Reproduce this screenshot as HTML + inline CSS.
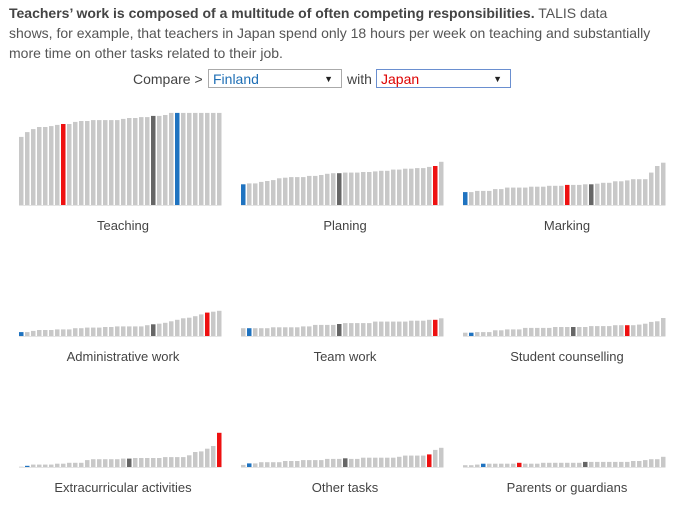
<!DOCTYPE html>
<html><head><meta charset="utf-8"><style>
body{margin:0;width:681px;height:506px;background:#fff;font-family:"Liberation Sans",sans-serif;color:#444;position:relative;overflow:hidden}
#intro{position:absolute;left:9px;top:3px;width:672px;font-size:14px;line-height:20px;color:#555;white-space:nowrap}
#intro b{color:#444}
.ctl{position:absolute;top:69px;font-size:14px;color:#444}
.sel{position:absolute;top:69px;height:19px;width:132px;border:1px solid #aaa;font-size:14px;line-height:19px;padding-left:4px;box-sizing:border-box;background:#fff}
.sel span.arr{position:absolute;right:8px;top:0;font-size:9px;color:#222}
svg{position:absolute;left:0;top:0}
</style></head><body>
<div id="intro"><b>Teachers’ work is composed of a multitude of often competing responsibilities.</b> TALIS data<br>shows, for example, that teachers in Japan spend only 18 hours per week on teaching and substantially<br>more time on other tasks related to their job.</div>
<div class="ctl" style="left:133px;top:71px">Compare &gt;</div>
<div class="sel" style="left:208px;width:134px;color:#1f6fb5">Finland<span class="arr">▼</span></div>
<div class="ctl" style="left:347px;top:71px">with</div>
<div class="sel" style="left:376px;width:135px;color:#d00;border-color:#6a8fd0">Japan<span class="arr">▼</span></div>
<svg id="chart" width="681" height="506"></svg>
<script>
const titles=["Teaching","Planing","Marking","Administrative work","Team work","Student counselling","Extracurricular activities","Other tasks","Parents or guardians"];
const teaching=[22.7,24.3,25.3,26,26,26.3,26.7,27,27,27.7,28,28,28.3,28.3,28.3,28.3,28.3,28.7,29,29,29.3,29.3,29.7,29.7,30,30.7,30.7,30.7,30.7,30.7,30.7,30.7,30.7,30.7];
const planing=[6.9,7.2,7.2,7.7,8,8.3,8.9,9.1,9.3,9.3,9.3,9.7,9.7,10,10.4,10.6,10.6,10.8,10.8,10.8,11,11,11.2,11.4,11.4,11.8,11.8,12.1,12.1,12.3,12.3,12.7,13,14.4];
const marking=[4.3,4.3,4.7,4.7,4.7,5.3,5.3,5.8,5.8,5.8,5.8,6.1,6.1,6.1,6.4,6.4,6.4,6.7,6.7,6.7,6.9,6.9,7.1,7.4,7.4,7.9,7.9,8.2,8.6,8.6,8.6,10.8,13,14.1];
const admin=[1.3,1.3,1.7,2,2,2,2.2,2.2,2.2,2.6,2.6,2.8,2.8,2.8,3,3,3.2,3.2,3.2,3.2,3.2,3.6,3.9,4.1,4.4,4.9,5.4,5.9,6.1,6.6,7.2,7.8,8.1,8.4];
const team=[2.6,2.6,2.6,2.6,2.6,2.9,2.9,2.9,2.9,2.9,3.2,3.2,3.7,3.7,3.7,3.7,4,4.3,4.3,4.3,4.3,4.3,4.8,4.8,4.8,4.8,4.8,4.8,5.1,5.1,5.1,5.4,5.4,5.9];
const counselling=[1.1,1.1,1.3,1.3,1.3,1.9,1.9,2.2,2.2,2.2,2.7,2.7,2.7,2.7,2.7,3,3,3,3,3,3,3.3,3.3,3.3,3.3,3.6,3.6,3.6,3.6,3.8,4.1,4.7,4.9,6];
const extra=[0.1,0.4,0.8,0.8,0.8,0.8,1.1,1.1,1.4,1.4,1.4,2.3,2.6,2.6,2.6,2.6,2.6,2.8,2.8,3,3,3,3,3,3.3,3.3,3.3,3.3,3.9,5,5.2,6.1,7,11.4];
const other=[0.7,1.2,1.2,1.6,1.6,1.6,1.6,2,2,2,2.3,2.3,2.3,2.3,2.7,2.7,2.7,2.9,2.7,2.7,3.1,3.1,3.1,3.1,3.1,3.1,3.4,3.8,3.8,3.8,3.8,4.2,5.7,6.4];
const parents=[0.6,0.6,0.8,1.1,1.1,1.1,1.1,1.1,1.1,1.4,1.1,1.1,1.1,1.4,1.4,1.4,1.4,1.4,1.4,1.4,1.7,1.7,1.7,1.7,1.7,1.7,1.7,1.7,2,2,2.3,2.6,2.6,3.4];
const series=[teaching,planing,marking,admin,team,counselling,extra,other,parents];
const finlandIdx=[26,0,0,0,1,1,1,1,3];
const japanIdx=[7,32,17,31,32,27,33,31,9];
const oecdIdx=[22,16,21,22,16,18,18,17,20];
const colX=[19,241,463], rowBase=[205,336,467];
const pxPerUnit=3, pitch=6, barW=4.5;
const svg=document.getElementById('chart');const NS="http://www.w3.org/2000/svg";
function xPos(c,i){return colX[c]+i*pitch;}
function yLen(v){return v*pxPerUnit;}
series.forEach((vals,k)=>{
  const c=k%3,r=Math.floor(k/3),base=rowBase[r];
  const g=document.createElementNS(NS,'g');
  
  
  svg.appendChild(g);
  vals.forEach((v,i)=>{
    const rc=document.createElementNS(NS,'rect');
    rc.setAttribute('x',xPos(c,i));rc.setAttribute('width',barW);
    rc.setAttribute('y',base-yLen(v));rc.setAttribute('height',yLen(v));
    let col='#c8c8c8';
    if(i===finlandIdx[k])col='#1f73c0';else if(i===japanIdx[k])col='#ee1111';else if(i===oecdIdx[k])col='#666';
    rc.setAttribute('fill',col);
    
    
    g.appendChild(rc);
  });
  const ln=document.createElementNS(NS,'line');
  ln.setAttribute('x1',colX[c]);ln.setAttribute('x2',colX[c]+vals.length*pitch-1.5);
  ln.setAttribute('y1',base+0.5);ln.setAttribute('y2',base+0.5);ln.setAttribute('stroke','#e4e4e4');
  
  
  g.appendChild(ln);
  const t=document.createElementNS(NS,'text');
  t.setAttribute('x',colX[c]+104);t.setAttribute('y',base+25);t.setAttribute('text-anchor','middle');
  t.setAttribute('font-size','13');t.setAttribute('fill','#444');t.setAttribute('font-family','Liberation Sans, sans-serif');
  t.textContent=titles[k];
  
  
  g.appendChild(t);
});
</script>
</body></html>
